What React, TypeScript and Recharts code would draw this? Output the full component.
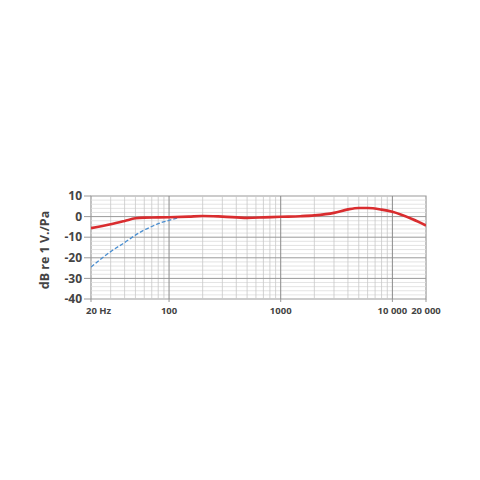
import { LineChart, Line, XAxis, YAxis, ReferenceLine, ReferenceArea } from "recharts";

// response (Hz / dB re 1 V/Pa)
const mainFreq = [20, 30, 40, 50, 60, 80, 100, 150, 200, 300, 500, 700, 1000, 1500, 2000, 3000, 4000, 5000, 6000, 8000, 10000, 15000, 20000];
const mainDb = [-5.6, -3.7, -2.1, -0.8, -0.5, -0.4, -0.3, 0, 0.3, 0, -0.6, -0.4, -0.1, 0.2, 0.6, 1.8, 3.5, 4.2, 4.2, 3.4, 2.3, -1.2, -4.3];

const cutFreq = [20, 30, 40, 50, 60, 70, 80, 100, 120];
const cutDb = [-24.5, -17, -12.6, -9, -6.5, -4.8, -3.4, -1.8, -0.6];

const xTicks = [20, 100, 1000, 10000, 20000];
const yTicks = [-40, -30, -20, -10, 0, 10];

const majorX = [100, 1000, 10000];
const minorX = [30, 40, 50, 60, 70, 80, 90, 200, 300, 400, 500, 600, 700, 800, 900, 2000, 3000, 4000, 5000, 6000, 7000, 8000, 9000];
const majorY = [-30, -20, -10, 0];
const minorY = [-38, -36, -34, -32, -28, -26, -24, -22, -18, -16, -14, -12, -8, -6, -4, -2, 2, 4, 6, 8];

const mainData = mainFreq.map((f, i) => ({ f, db: mainDb[i] }));
const cutData = cutFreq.map((f, i) => ({ f, db: cutDb[i] }));

const font = "'Open Sans', 'DejaVu Sans', sans-serif";

const fmtX = (v: number) => {
    if (v === 20) return "20 Hz";
    if (v >= 10000) return `${v / 1000} 000`;
    return String(v);
};

const XTick = (props: any) => {
    const { x, y, payload } = props;
    const first = payload.value === 20;
    return (
        <text
            x={first ? x - 5 : x}
            y={y + 10}
            textAnchor={first ? "start" : "middle"}
            fontFamily={font}
            fontWeight={700}
            fontSize={9.5}
            fill="#444"
        >
            {fmtX(payload.value)}
        </text>
    );
};

const YLabel = () => (
    <text
        x={49}
        y={250}
        transform="rotate(-90 49 250)"
        textAnchor="middle"
        fontFamily={font}
        fontWeight={700}
        fontSize={12.5}
        fill="#444"
    >
        dB re 1 V./Pa
    </text>
);

export default function App() {
    return (
        <div style={{ position: "absolute", left: 0, top: 0, width: 480, height: 480, background: "#fff" }}>
            <LineChart width={480} height={480} margin={{ top: 196, right: 54, bottom: 151, left: 41 }}>
                <XAxis
                    dataKey="f"
                    type="number"
                    scale="log"
                    domain={[20, 20000]}
                    ticks={xTicks}
                    interval={0}
                    allowDataOverflow
                    axisLine={false}
                    tickLine={{ stroke: "#999" }}
                    tickSize={3}
                    tick={<XTick />}
                    height={30}
                />
                <YAxis
                    type="number"
                    domain={[-40, 10]}
                    ticks={yTicks}
                    interval={0}
                    width={50}
                    axisLine={false}
                    tickLine={{ stroke: "#999" }}
                    tickSize={7}
                    tick={{ fontFamily: font, fontWeight: 700, fontSize: 12, fill: "#444" }}
                    label={{ content: YLabel }}
                />
                {minorY.map((v) => (
                    <ReferenceLine key={`hy${v}`} y={v} stroke="#dcdcdc" strokeWidth={0.8} />
                ))}
                {minorX.map((v) => (
                    <ReferenceLine key={`vx${v}`} x={v} stroke="#c8c8c8" strokeWidth={0.8} />
                ))}
                {majorY.map((v) => (
                    <ReferenceLine key={`HY${v}`} y={v} stroke="#9a9a9a" strokeWidth={1} />
                ))}
                {majorX.map((v) => (
                    <ReferenceLine key={`VX${v}`} x={v} stroke="#8a8a8a" strokeWidth={1} />
                ))}
                <ReferenceArea x1={20} x2={20000} y1={-40} y2={10} fill="none" stroke="#999" strokeWidth={1.2} />
                <Line
                    data={cutData}
                    dataKey="db"
                    type="monotone"
                    stroke="#4a8ed0"
                    strokeWidth={1.3}
                    strokeDasharray="4 2"
                    dot={false}
                    isAnimationActive={false}
                />
                <Line
                    data={mainData}
                    dataKey="db"
                    type="monotone"
                    stroke="#d92d2f"
                    strokeWidth={2.6}
                    dot={false}
                    isAnimationActive={false}
                />
            </LineChart>
        </div>
    );
}
